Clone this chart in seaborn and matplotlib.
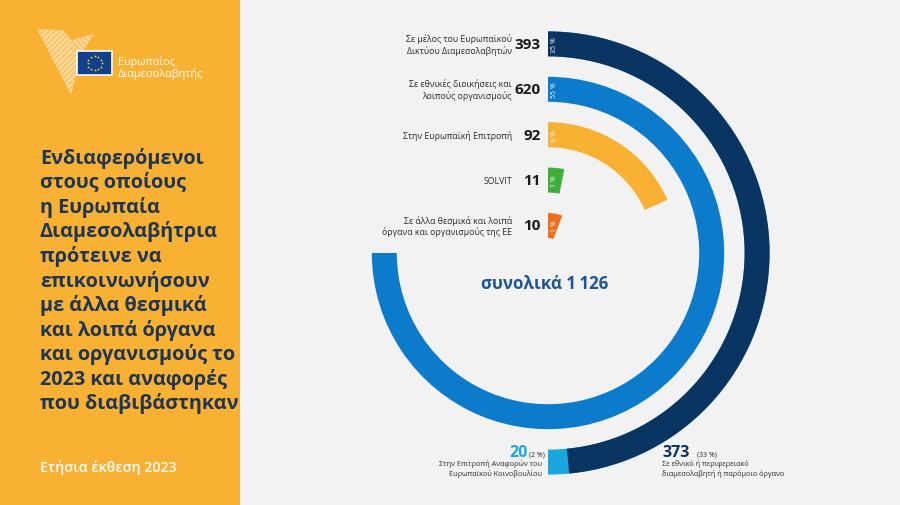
import matplotlib.pyplot as plt
import matplotlib.patches as mpatches
import seaborn as sns
import pandas as pd
import numpy as np

sns.set_theme(style="white")
plt.rcParams['font.family'] = ['Open Sans', 'DejaVu Sans']
plt.rcParams['hatch.linewidth'] = 0.4

categories = ['Σε μέλος του Ευρωπαϊκού\nΔικτύου Διαμεσολαβητών',
              'Σε εθνικές διοικήσεις και\nλοιπούς οργανισμούς',
              'Στην Ευρωπαϊκή Επιτροπή',
              'SOLVIT',
              'Σε άλλα θεσμικά και λοιπά\nόργανα και οργανισμούς της ΕΕ']
counts = [393, 620, 92, 11, 10]
shares = ['35 %', '55 %', '8 %', '1 %', '1 %']
# arc drawn for each ring in the infographic (degrees, not to scale)
sweep_deg = [180, 270, 66, 11, 21]
ring_colors = ['#0a3562', '#0c7bcb', '#f8b133', '#3fae3a', '#ee6f1b']

# outer ring split
split_labels = ['Σε εθνικό ή περιφερειακό\nδιαμεσολαβητή ή παρόμοιο όργανο',
                'Στην Επιτροπή Αναφορών του\nΕυρωπαϊκού Κοινοβουλίου']
split_counts = [373, 20]
split_shares = ['(33 %)', '(2 %)']
split_sweep_deg = [174.5, 5.5]
split_colors = ['#0a3562', '#1aa6df']

total = 1126
title_lines = ['Ενδιαφερόμενοι', 'στους οποίους', 'η Ευρωπαία', 'Διαμεσολαβήτρια',
               'πρότεινε να', 'επικοινωνήσουν', 'με άλλα θεσμικά', 'και λοιπά όργανα',
               'και οργανισμούς το', '2023 και αναφορές', 'που διαβιβάστηκαν']

BG = '#f2f2f2'
PANEL = '#f8b133'
NAVY_TXT = '#1d3557'
TXT = '#2b2b2b'

fig = plt.figure(figsize=(9, 5.06), dpi=100)
fig.patch.set_facecolor(BG)

# overlay in pixel coordinates for panel, logo and free texts
bg = fig.add_axes([0, 0, 1, 1])
bg.set_xlim(0, 900)
bg.set_ylim(506, 0)
bg.set_axis_off()
bg.add_patch(mpatches.Rectangle((0, 0), 240, 506, color=PANEL, lw=0))

# logo
bg.add_patch(mpatches.Polygon([(37, 30), (63, 31), (82, 54), (71, 96)], closed=True,
                              fc=(1, 1, 1, 0.3), ec='white', hatch='//////', lw=0))
bg.add_patch(mpatches.Polygon([(72, 41), (94, 35), (82, 54)], closed=True,
                              fc=(1, 1, 1, 0.3), ec='white', hatch='\\\\\\\\\\\\', lw=0))
bg.add_patch(mpatches.Rectangle((77, 52), 35, 24, fc='#123f8f', ec='white', lw=1.2))
ang = np.linspace(0, 2 * np.pi, 12, endpoint=False)
bg.scatter(94.5 + 7 * np.cos(ang), 64 + 7 * np.sin(ang), marker='*', s=5,
           color='#ffd200', lw=0)
bg.text(118, 62, 'Ευρωπαίος', color='white', fontsize=7.8, va='center')
bg.text(118, 74, 'Διαμεσολαβητής', color='white', fontsize=7.8, va='center')

for i, line in enumerate(title_lines):
    bg.text(40, 158 + 24.6 * i, line, color=NAVY_TXT, fontsize=14.3,
            fontweight='bold', va='center', ha='left')
bg.text(40, 468, 'Ετήσια έκθεση 2023', color='white', fontsize=10.2,
        fontweight='semibold', va='center', ha='left')

# ---- radial bars ----
cx, cy = 548, 254
ring_pos = [5, 4, 3, 2, 1]
unit_px = 45.4
r0 = 1 - 27.5 / unit_px
rmax = 5.4
R = (rmax - r0) * unit_px
ax = fig.add_axes([(cx - R) / 900, (506 - cy - R) / 506, 2 * R / 900, 2 * R / 506],
                  projection='polar')
ax.set_theta_zero_location('N')
ax.set_theta_direction(-1)

# outer ring: cumulative split, largest first so the navy part lies on top
cum = np.cumsum(split_sweep_deg)
for c, col in list(zip(cum, split_colors))[::-1]:
    sns.barplot(x=[np.deg2rad(c)], y=[ring_pos[0]], orient='h', native_scale=True,
                color=col, saturation=1, width=0.55, errorbar=None,
                linewidth=0, edgecolor='none', ax=ax)

inner = pd.DataFrame({'sweep': np.deg2rad(sweep_deg[1:]),
                      'ring': ring_pos[1:],
                      'name': categories[1:]})
sns.barplot(data=inner, x='sweep', y='ring', hue='name', hue_order=categories[1:],
            palette=ring_colors[1:], saturation=1, orient='h', native_scale=True,
            width=0.55, errorbar=None, legend=False, linewidth=0, edgecolor='none',
            ax=ax)
ax.set_ylim(r0, rmax)
ax.set_axis_off()

for r, name, n, s in zip(ring_pos, categories, counts, shares):
    ax.annotate(s, xy=(0, r), xytext=(6, 0), textcoords='offset pixels',
                rotation=90, ha='center', va='center', color='white', fontsize=5)
    ax.annotate(str(n), xy=(0, r), xytext=(-7, 0), textcoords='offset pixels',
                ha='right', va='center', color='#1a1a1a', fontsize=11,
                fontweight='bold')
    ax.annotate(name, xy=(0, r), xytext=(-36, 0), textcoords='offset pixels',
                ha='right', va='center', multialignment='right', color=TXT,
                fontsize=6.3, linespacing=1.25)

bg.text(545, 284, f'συνολικά {total // 1000}\u2009{total % 1000}', color='#1b5596',
        fontsize=12.2, fontweight='bold', ha='center', va='center')

# outer ring annotations
bg.text(528, 453, str(split_counts[1]), color=split_colors[1], fontsize=11.5,
        fontweight='bold', ha='right', va='center')
bg.text(545, 455, split_shares[1], color=TXT, fontsize=5, ha='right', va='center')
bg.text(542, 469, split_labels[1], color=TXT, fontsize=5.2, ha='right', va='center',
        multialignment='right', linespacing=1.35)

bg.text(662, 453, str(split_counts[0]), color=split_colors[0], fontsize=11.5,
        fontweight='bold', ha='left', va='center')
bg.text(697, 455, split_shares[0], color=TXT, fontsize=5, ha='left', va='center')
bg.text(662, 469, split_labels[0], color=TXT, fontsize=5.2, ha='left', va='center',
        linespacing=1.35)

fig.savefig('out.png', dpi=100, facecolor=fig.get_facecolor())
